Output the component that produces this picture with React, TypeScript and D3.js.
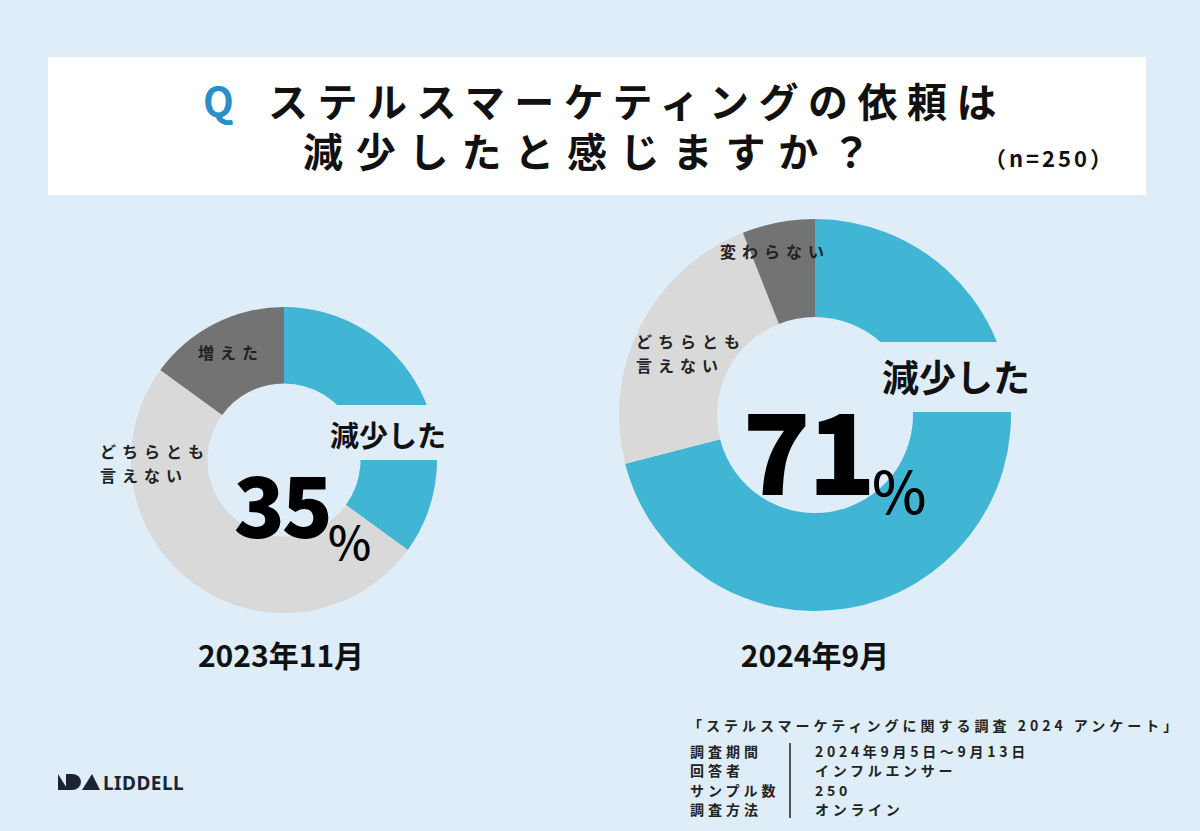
import React from "react";
import * as d3 from "d3";

const questionLine1 = "ステルスマーケティングの依頼は";
const questionLine2 = "減少したと感じますか？";
const sampleNote = "（n=250）";

const categories2023 = ["減少した", "どちらとも言えない", "増えた"];
const values2023 = [35, 50, 15];
const categories2024 = ["減少した", "どちらとも言えない", "変わらない"];
const values2024 = [71, 23, 6];
const periodLabels = ["2023年11月", "2024年9月"];

const surveyTitle = "「ステルスマーケティングに関する調査 2024 アンケート」";
const infoKeys = ["調査期間", "回答者", "サンプル数", "調査方法"];
const infoValues = ["2024年9月5日〜9月13日", "インフルエンサー", "250", "オンライン"];

const BG = "#deedf8";
const BLUE = "#40b6d4";
const LIGHT = "#d9d9d9";
const DARK = "#737373";
const FONT = "'Noto Sans CJK JP', 'Noto Sans', sans-serif";

type DonutProps = {
  cx: number;
  cy: number;
  r: number;
  cats: string[];
  vals: number[];
  cut: { x0: number; x1: number; y0: number; y1: number };
  labelSize: number;
  labelPos: { x: number; y: number };
  bigSize: number;
  bigPos: { x: number; y: number };
  pctSize: number;
  pctPos: { x: number; y: number };
  sideLabels: { lines: string[]; x: number; y: number }[];
};

function colorFor(c: string) {
  if (c === "減少した") return BLUE;
  if (c === "どちらとも言えない") return LIGHT;
  return DARK;
}

function Donut(p: DonutProps) {
  const pie = d3
    .pie<number>()
    .sort(null)
    .value((d) => d);
  const arcs = pie(p.vals);
  const arc = d3.arc<d3.PieArcDatum<number>>().innerRadius(p.r * 0.5).outerRadius(p.r);
  return (
    <g transform={`translate(${p.cx},${p.cy})`}>
      {arcs.map((a, i) => (
        <path key={i} d={arc(a) || ""} fill={colorFor(p.cats[i])} />
      ))}
      <rect
        x={p.cut.x0}
        y={p.cut.y0}
        width={p.cut.x1 - p.cut.x0}
        height={p.cut.y1 - p.cut.y0}
        fill={BG}
      />
      <text
        x={p.labelPos.x}
        y={p.labelPos.y}
        fontSize={p.labelSize}
        fontWeight={700}
        fontFamily={FONT}
        fill="#111"
      >
        {p.cats[0]}
      </text>
      <text
        x={p.bigPos.x}
        y={p.bigPos.y}
        fontSize={p.bigSize}
        fontWeight={900}
        fontFamily={FONT}
        fill="#000"
        textAnchor="end"
        letterSpacing={-3}
      >
        {p.vals[0]}
      </text>
      <text
        x={p.pctPos.x}
        y={p.pctPos.y}
        fontSize={p.pctSize}
        fontWeight={500}
        fontFamily={FONT}
        fill="#000"
      >
        %
      </text>
      {p.sideLabels.map((s, i) => (
        <text
          key={i}
          x={s.x}
          y={s.y}
          fontSize={16}
          fontWeight={700}
          fontFamily={FONT}
          fill="#222"
          letterSpacing={6}
        >
          {s.lines.map((l, j) => (
            <tspan key={j} x={s.x} dy={j === 0 ? 0 : 24}>
              {l}
            </tspan>
          ))}
        </text>
      ))}
    </g>
  );
}

export default function App() {
  const W = 1200;
  const H = 831;
  const rowY = d3.scalePoint<string>().domain(infoKeys).range([752, 810]);
  return (
    <svg
      width={W}
      height={H}
      style={{ position: "absolute", left: 0, top: 0, display: "block" }}
    >
      <rect x={0} y={0} width={W} height={H} fill={BG} />
      <rect x={48} y={57} width={1098} height={138} fill="#ffffff" />
      <text x={203} y={117} fontSize={40} fontWeight={700} fontFamily={FONT} fill="#2b8fc6">
        Q
      </text>
      <text
        x={268}
        y={117}
        fontSize={40}
        fontWeight={700}
        fontFamily={FONT}
        fill="#111"
        letterSpacing={9.5}
      >
        {questionLine1}
      </text>
      <text
        x={303}
        y={167}
        fontSize={40}
        fontWeight={700}
        fontFamily={FONT}
        fill="#111"
        letterSpacing={12.8}
      >
        {questionLine2}
      </text>
      <text
        x={984}
        y={167}
        fontSize={22}
        fontWeight={700}
        fontFamily={FONT}
        fill="#111"
        letterSpacing={3}
      >
        {sampleNote}
      </text>

      <Donut
        cx={284}
        cy={460}
        r={153}
        cats={categories2023}
        vals={values2023}
        cut={{ x0: 53, x1: 160, y0: -55, y1: 0 }}
        labelSize={29}
        labelPos={{ x: 46, y: -13 }}
        bigSize={84}
        bigPos={{ x: 46, y: 78 }}
        pctSize={46}
        pctPos={{ x: 44, y: 100 }}
        sideLabels={[
          { lines: ["増えた"], x: -86, y: -101 },
          { lines: ["どちらとも", "言えない"], x: -184, y: -2 },
        ]}
      />
      <Donut
        cx={815}
        cy={415}
        r={196}
        cats={categories2024}
        vals={values2024}
        cut={{ x0: 63, x1: 200, y0: -73, y1: -3 }}
        labelSize={37}
        labelPos={{ x: 67, y: -23 }}
        bigSize={112}
        bigPos={{ x: 58, y: 80 }}
        pctSize={58}
        pctPos={{ x: 57, y: 99 }}
        sideLabels={[
          { lines: ["変わらない"], x: -95, y: -157 },
          { lines: ["どちらとも", "言えない"], x: -179, y: -67 },
        ]}
      />

      <text
        x={281}
        y={667}
        fontSize={30}
        fontWeight={700}
        fontFamily={FONT}
        fill="#111"
        textAnchor="middle"
      >
        {periodLabels[0]}
      </text>
      <text
        x={815}
        y={667}
        fontSize={30}
        fontWeight={700}
        fontFamily={FONT}
        fill="#111"
        textAnchor="middle"
      >
        {periodLabels[1]}
      </text>

      <text
        x={688}
        y={731}
        fontSize={14}
        fontWeight={700}
        fontFamily={FONT}
        fill="#222"
        letterSpacing={4}
      >
        {surveyTitle}
      </text>
      {infoKeys.map((k, i) => (
        <g key={k}>
          <text
            x={690}
            y={(rowY(k) || 0) + 5}
            fontSize={14}
            fontWeight={700}
            fontFamily={FONT}
            fill="#222"
            letterSpacing={4}
          >
            {k}
          </text>
          <text
            x={815}
            y={(rowY(k) || 0) + 5}
            fontSize={14}
            fontWeight={700}
            fontFamily={FONT}
            fill="#222"
            letterSpacing={3.7}
          >
            {infoValues[i]}
          </text>
        </g>
      ))}
      <line x1={790} x2={790} y1={743} y2={818} stroke="#222" strokeWidth={1.5} />

      <g fill="#1c2333">
        <path d="M58,774 L58,790 L68,790 Z" />
        <path d="M66,774 L72,774 A9,8 0 0 1 72,790 L66,790 Z" />
        <path d="M82,790 L92,774 L100,790 Z" />
      </g>
      <text
        x={103}
        y={790}
        fontSize={19}
        fontWeight={700}
        fontFamily="'Noto Sans', sans-serif"
        fill="#1c2333"
        letterSpacing={0.5}
      >
        LIDDELL
      </text>
    </svg>
  );
}
